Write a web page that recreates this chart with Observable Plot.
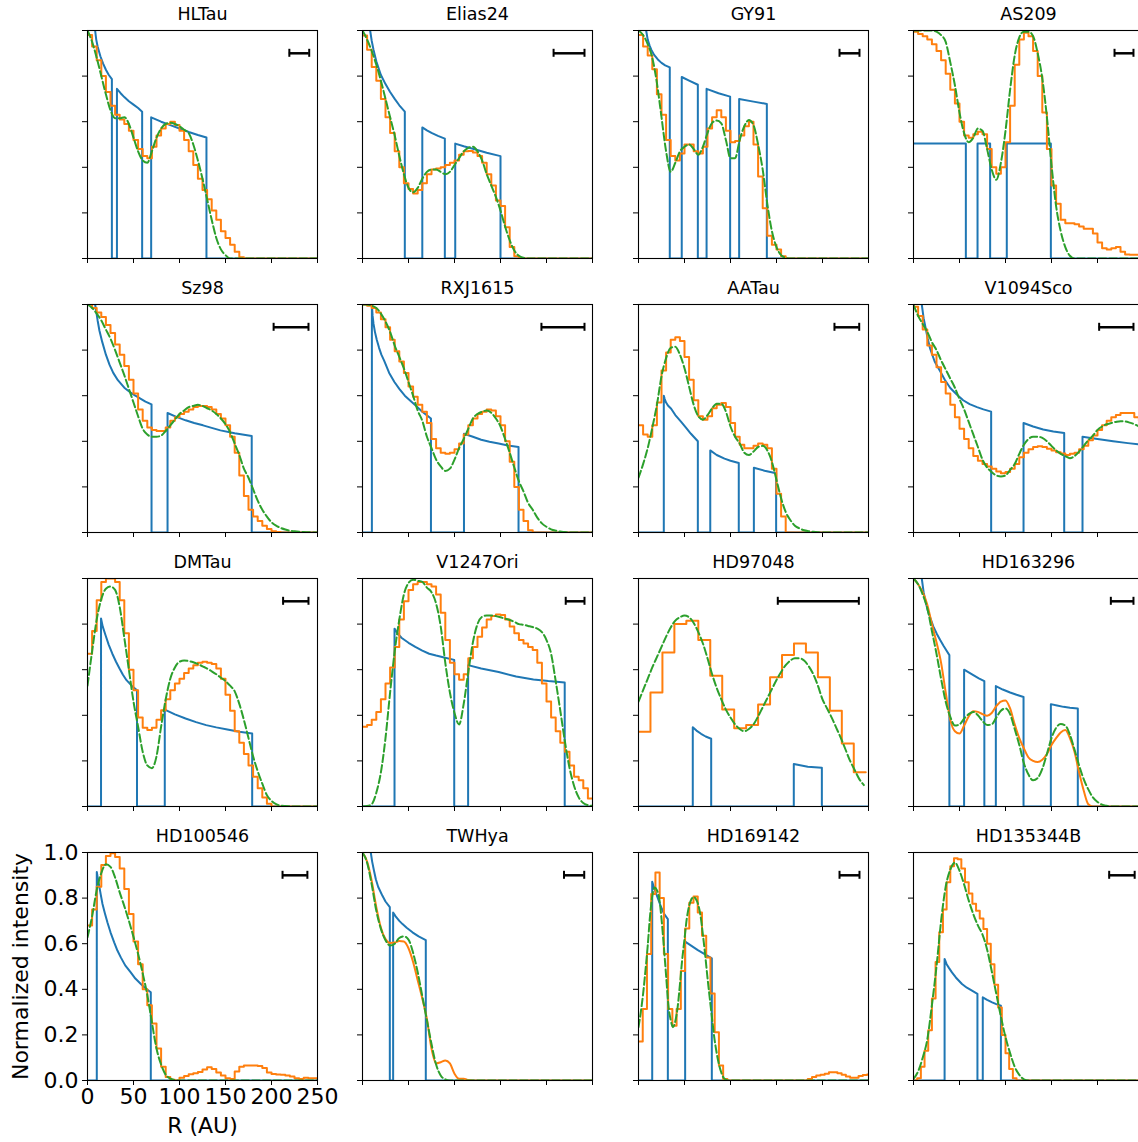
<!DOCTYPE html>
<html><head><meta charset="utf-8">
<script src="https://cdn.jsdelivr.net/npm/d3@7"></script>
<script src="https://cdn.jsdelivr.net/npm/@observablehq/plot@0.6"></script>
<style>
body{margin:0;background:#fff;}
#fig{position:relative;width:1138px;height:1142px;overflow:hidden;background:#fff;}
#fig svg{position:absolute;}
</style>
</head><body><div id="fig"></div>
<script>
// ---------- data ----------
const names = ["HLTau","Elias24","GY91","AS209","Sz98","RXJ1615","AATau","V1094Sco","DMTau","V1247Ori","HD97048","HD163296","HD100546","TWHya","HD169142","HD135344B"];
const xTicks = [0, 50, 100, 150, 200, 250];
const yTicks = [0, 0.2, 0.4, 0.6, 0.8, 1.0];
const xLabel = "R (AU)";
const yLabel = "Normalized intensity";
// observed profile: bin width (AU) and whether drawn smooth
const obsBin = [5,5,5,5,5,5,5,5,5,5,13,5,5,5,4.6,4];
const obsSmooth = [false,false,false,false,false,false,false,false,false,false,false,true,false,true,false,false];
// convolved model sampling step (AU)
const convStep = [5,5,5,5,5,5,5,5,5,5,5,5,5,5,2.5,5];

// model ring profiles [R, I]
const ring_HLTau = [[2,2],[5,1.17],[8.3,1.0],[9.5,0.96],[11,0.93],[14,0.887],[17,0.855],[20,0.828],[23,0.806],[26.5,0.787],[26.5,0],[32,0],[32,0.744],[36,0.725],[40,0.708],[45,0.69],[50,0.675],[55,0.66],[59.4,0.644],[59.4,0],[69.2,0],[69.2,0.619],[80,0.60],[90,0.585],[100,0.57],[110,0.555],[120,0.542],[129.3,0.531],[129.3,0],[250,0]];
const ring_Elias24 = [[2,2],[5,1.2],[8.3,1.0],[10,0.955],[12,0.915],[15,0.865],[20,0.805],[25,0.765],[30,0.73],[35,0.70],[40,0.672],[46,0.644],[46,0],[65,0],[65,0.575],[70,0.562],[75,0.551],[82,0.538],[89.5,0.526],[89.5,0],[100.8,0],[100.8,0.504],[110,0.492],[120,0.481],[135,0.464],[150,0.449],[150,0],[250,0]];
const ring_GY91 = [[2,2],[5,1.25],[8.3,1.0],[10,0.96],[12,0.935],[14,0.915],[17,0.893],[21,0.873],[25,0.858],[29,0.847],[34,0.838],[34,0],[47,0],[47,0.796],[55,0.78],[64.5,0.762],[64.5,0],[74,0],[74,0.744],[87,0.725],[99.6,0.71],[99.6,0],[109.4,0],[109.4,0.70],[125,0.688],[139.5,0.678],[139.5,0],[250,0]];
const ring_AS209 = [[0,0.504],[56.9,0.504],[56.9,0],[69.6,0],[69.6,0.504],[83.3,0.504],[83.3,0],[101.4,0],[101.4,0.504],[149.3,0.504],[149.3,0],[250,0]];
const ring_Sz98 = [[2,2],[5,1.25],[8.3,1.0],[9.5,0.97],[11,0.93],[13,0.885],[16,0.836],[20,0.78],[24,0.735],[28,0.70],[33,0.668],[40,0.635],[46,0.616],[52,0.60],[57.5,0.587],[63,0.574],[69.6,0.562],[69.6,0],[87,0],[87,0.524],[96,0.508],[106.6,0.492],[116,0.48],[125.6,0.47],[135,0.459],[144.5,0.448],[160,0.435],[178.5,0.423],[178.5,0],[250,0]];
const ring_RXJ1615 = [[0,0],[10.2,0],[10.2,1.0],[11,0.95],[12,0.915],[13.5,0.88],[15.5,0.845],[18,0.81],[20.5,0.78],[23.4,0.755],[29,0.70],[34.7,0.66],[40,0.63],[46,0.60],[52,0.578],[57.5,0.558],[65,0.53],[74.4,0.50],[74.4,0],[110.3,0],[110.3,0.433],[120,0.42],[129,0.407],[138,0.398],[148,0.39],[158,0.382],[169.6,0.375],[169.6,0],[250,0]];
const ring_AATau = [[0,0],[27.5,0],[27.5,0.60],[28.5,0.585],[30,0.57],[32,0.557],[35.5,0.543],[40,0.515],[46.4,0.485],[52,0.458],[57,0.433],[64.5,0.40],[64.5,0],[78,0],[78,0.36],[85,0.34],[93.5,0.324],[100,0.315],[109,0.305],[109,0],[125.4,0],[125.4,0.284],[137,0.271],[149.6,0.26],[149.6,0],[250,0]];
const ring_V1094Sco = [[2,2],[5,1.3],[9,1.0],[11,0.94],[13,0.9],[15.5,0.85],[18,0.807],[23,0.75],[29,0.707],[34,0.67],[40,0.634],[47,0.605],[54,0.58],[61,0.563],[69,0.55],[76,0.54],[84.4,0.53],[84.4,0],[119.6,0],[119.6,0.48],[130,0.465],[141,0.452],[152,0.443],[163.8,0.436],[163.8,0],[183.7,0],[183.7,0.42],[200,0.41],[217,0.40],[233,0.392],[250,0.385]];
const ring_DMTau = [[0,0],[14.7,0],[14.7,0.825],[16.5,0.79],[19.7,0.75],[23,0.71],[27,0.67],[31,0.635],[34.8,0.605],[38.5,0.578],[42.4,0.554],[48,0.53],[53.8,0.51],[53.8,0],[84,0],[84,0.425],[95,0.404],[106.6,0.386],[118,0.37],[129,0.357],[140,0.347],[152,0.338],[165,0.328],[179,0.32],[179,0],[250,0]];
const ring_V1247Ori = [[0,0],[34.8,0],[34.8,0.78],[38,0.76],[42.3,0.74],[50,0.718],[57.4,0.70],[65,0.684],[72.5,0.67],[80,0.662],[87.6,0.655],[99.7,0.643],[99.7,0],[114.8,0],[114.8,0.62],[129,0.605],[148,0.59],[167,0.57],[185.8,0.557],[202,0.55],[219.8,0.544],[219.8,0],[250,0]];
const ring_HD97048 = [[0,0],[59,0],[59,0.348],[63,0.333],[68,0.319],[73,0.307],[79,0.297],[79,0],[168.8,0],[168.8,0.186],[184,0.174],[199.3,0.17],[199.3,0],[250,0]];
const ring_HD163296 = [[2,2],[5,1.3],[9,1.0],[11,0.94],[13,0.9],[15.5,0.86],[18,0.83],[21.5,0.79],[25.4,0.757],[29,0.73],[32.6,0.705],[36,0.683],[39,0.664],[39,0],[55,0],[55,0.60],[60,0.588],[65,0.576],[71,0.562],[77,0.55],[77,0],[89.5,0],[89.5,0.528],[97,0.513],[105,0.50],[112,0.49],[119.6,0.48],[119.6,0],[149.3,0],[149.3,0.449],[156,0.443],[163,0.437],[170,0.433],[178.6,0.43],[178.6,0],[250,0]];
const ring_HD100546 = [[0,0],[10.1,0],[10.1,0.915],[11.3,0.885],[12.7,0.854],[14.4,0.815],[16.3,0.774],[18.8,0.735],[21.7,0.693],[25,0.65],[29,0.606],[32.5,0.57],[36.2,0.54],[41,0.505],[47,0.474],[52,0.447],[58,0.423],[63,0.404],[68.8,0.387],[68.8,0],[250,0]];
const ring_TWHya = [[2,2],[5,1.3],[9,1.0],[10.5,0.96],[12.5,0.92],[14.5,0.883],[17,0.85],[21.7,0.81],[25,0.785],[29.7,0.76],[29.7,0],[33.3,0],[33.3,0.737],[36,0.72],[40,0.70],[43.5,0.686],[48,0.67],[54.3,0.65],[61,0.632],[68.8,0.616],[68.8,0],[250,0]];
const ring_HD169142 = [[0,0],[14.9,0],[14.9,0.872],[17.4,0.84],[21,0.80],[24.6,0.76],[28,0.73],[31.9,0.708],[31.9,0],[50.7,0],[50.7,0.609],[64.5,0.572],[79.7,0.536],[79.7,0],[250,0]];
const ring_HD135344B = [[0,0],[33.8,0],[33.8,0.533],[36,0.51],[38.5,0.494],[41.8,0.474],[46,0.452],[52.7,0.423],[58,0.407],[63.6,0.394],[69.5,0.38],[69.5,0],[75.3,0],[75.3,0.365],[80,0.354],[85.5,0.343],[90,0.335],[95,0.328],[95,0],[250,0]];

// observed intensity per bin
const obs_HLTau = [0.98,0.93,0.87,0.80,0.73,0.67,0.63,0.61,0.59,0.56,0.52,0.48,0.45,0.44,0.49,0.54,0.57,0.59,0.60,0.585,0.56,0.52,0.47,0.41,0.35,0.30,0.26,0.21,0.17,0.12,0.09,0.06,0.03,0.005,0];
const obs_Elias24 = [0.978,0.916,0.84,0.78,0.70,0.62,0.55,0.47,0.40,0.33,0.305,0.285,0.30,0.33,0.37,0.39,0.395,0.40,0.41,0.42,0.43,0.455,0.47,0.472,0.465,0.45,0.42,0.37,0.32,0.254,0.23,0.137,0.05,0.01,0];
const obs_GY91 = [0.98,0.93,0.89,0.83,0.72,0.63,0.52,0.45,0.43,0.46,0.50,0.50,0.47,0.46,0.49,0.57,0.62,0.65,0.62,0.56,0.51,0.515,0.54,0.58,0.60,0.50,0.36,0.22,0.10,0.06,0.04,0.01,0];
const obs_AS209 = [0.995,0.985,0.975,0.96,0.94,0.91,0.87,0.81,0.74,0.68,0.60,0.54,0.53,0.545,0.556,0.545,0.48,0.40,0.372,0.40,0.51,0.67,0.85,0.96,0.99,0.975,0.91,0.80,0.64,0.48,0.32,0.24,0.17,0.155,0.155,0.15,0.14,0.13,0.13,0.11,0.07,0.045,0.04,0.045,0.05,0.03,0.018,0.016,0.016,0.016];
const obs_Sz98 = [1.0,0.985,0.965,0.945,0.91,0.875,0.825,0.78,0.73,0.67,0.61,0.54,0.49,0.46,0.45,0.445,0.445,0.46,0.49,0.505,0.52,0.53,0.54,0.55,0.555,0.555,0.55,0.54,0.52,0.50,0.47,0.42,0.35,0.25,0.16,0.10,0.07,0.05,0.03,0.015,0.006,0.002,0];
const obs_RXJ1615 = [1.0,0.995,0.985,0.965,0.935,0.90,0.845,0.795,0.75,0.70,0.64,0.595,0.56,0.53,0.48,0.41,0.37,0.35,0.345,0.35,0.365,0.39,0.43,0.47,0.50,0.52,0.53,0.54,0.535,0.51,0.47,0.40,0.31,0.20,0.10,0.05,0.01,0];
const obs_AATau = [0.47,0.43,0.42,0.47,0.57,0.71,0.79,0.845,0.856,0.84,0.77,0.67,0.58,0.51,0.495,0.51,0.545,0.56,0.568,0.55,0.48,0.42,0.385,0.37,0.37,0.38,0.39,0.385,0.37,0.28,0.17,0.07,0];
const obs_V1094Sco = [0.99,0.95,0.89,0.82,0.78,0.725,0.66,0.61,0.56,0.505,0.455,0.41,0.37,0.335,0.315,0.30,0.29,0.28,0.268,0.26,0.265,0.28,0.30,0.33,0.35,0.365,0.375,0.378,0.375,0.367,0.36,0.352,0.346,0.34,0.345,0.35,0.365,0.38,0.405,0.425,0.45,0.47,0.49,0.505,0.515,0.524,0.524,0.524,0.505,0.49];
const obs_DMTau = [0.67,0.77,0.905,0.985,1.0,1.0,0.985,0.905,0.76,0.60,0.51,0.39,0.345,0.335,0.345,0.38,0.422,0.47,0.51,0.54,0.56,0.585,0.605,0.62,0.63,0.635,0.63,0.625,0.605,0.56,0.49,0.42,0.33,0.28,0.23,0.18,0.13,0.08,0.04,0.012,0];
const obs_V1247Ori = [0.35,0.357,0.38,0.415,0.47,0.54,0.61,0.70,0.82,0.90,0.95,0.975,0.985,0.985,0.975,0.965,0.93,0.85,0.73,0.63,0.58,0.556,0.58,0.65,0.70,0.745,0.785,0.82,0.835,0.842,0.84,0.82,0.79,0.76,0.73,0.715,0.70,0.686,0.63,0.54,0.46,0.39,0.33,0.28,0.24,0.18,0.13,0.115,0.08,0.035];
const obs_HD97048 = [0.328,0.50,0.675,0.80,0.815,0.73,0.574,0.425,0.343,0.357,0.447,0.567,0.665,0.715,0.675,0.567,0.42,0.276,0.15];
const obs_HD163296 = [1.0,0.975,0.94,0.885,0.80,0.72,0.63,0.50,0.38,0.33,0.32,0.355,0.395,0.418,0.415,0.405,0.398,0.41,0.44,0.46,0.465,0.43,0.36,0.30,0.255,0.215,0.20,0.195,0.205,0.23,0.27,0.30,0.325,0.335,0.30,0.24,0.15,0.07,0.01,0];
const obs_HD100546 = [0.68,0.75,0.85,0.945,0.985,0.997,0.98,0.93,0.84,0.73,0.61,0.51,0.40,0.33,0.25,0.14,0.06,0.015,0.003,0,0.012,0.02,0.027,0.032,0.037,0.048,0.058,0.05,0.035,0.022,0.01,0.007,0.04,0.06,0.066,0.066,0.066,0.064,0.055,0.035,0.028,0.026,0.025,0.022,0.018,0.01,0.007,0.012,0.01,0.01];
const obs_TWHya = [1.0,0.96,0.875,0.76,0.67,0.62,0.603,0.605,0.612,0.61,0.58,0.52,0.44,0.36,0.27,0.14,0.075,0.08,0.088,0.075,0.03,0.008,0.008,0.002,0];
const obs_HD169142 = [0.171,0.314,0.555,0.818,0.912,0.80,0.555,0.314,0.24,0.314,0.48,0.667,0.78,0.807,0.737,0.635,0.54,0.382,0.212,0.066,0.007,0,0,0,0,0,0,0,0,0,0,0,0,0,0,0,0,0,0,0,0.007,0.015,0.022,0.025,0.03,0.036,0.036,0.032,0.025,0.018,0.012,0.012,0.02,0.024,0.026];
const obs_HD135344B = [0.0,0.01,0.06,0.13,0.22,0.36,0.52,0.65,0.75,0.87,0.94,0.975,0.97,0.93,0.87,0.82,0.775,0.745,0.71,0.665,0.60,0.51,0.42,0.32,0.20,0.12,0.05,0.01,0];

// convolved model intensity
const conv_HLTau = [1.0,0.95,0.88,0.80,0.72,0.65,0.615,0.615,0.62,0.59,0.53,0.47,0.43,0.42,0.47,0.53,0.57,0.59,0.595,0.59,0.58,0.565,0.55,0.50,0.43,0.35,0.26,0.17,0.09,0.04,0.015,0];
const conv_Elias24 = [1.0,0.96,0.91,0.85,0.78,0.70,0.62,0.54,0.45,0.37,0.31,0.29,0.31,0.35,0.38,0.39,0.39,0.38,0.37,0.38,0.41,0.44,0.47,0.485,0.49,0.47,0.43,0.37,0.32,0.27,0.21,0.14,0.08,0.035,0.012,0.003,0];
const conv_GY91 = [1.0,0.98,0.94,0.88,0.77,0.62,0.47,0.38,0.42,0.47,0.49,0.50,0.48,0.455,0.49,0.55,0.595,0.605,0.593,0.52,0.44,0.44,0.52,0.58,0.607,0.585,0.50,0.39,0.24,0.12,0.05,0.015,0.003,0];
const conv_AS209 = [1.0,1.0,1.0,1.0,1.0,0.995,0.98,0.95,0.86,0.76,0.64,0.55,0.51,0.53,0.57,0.56,0.48,0.39,0.345,0.42,0.56,0.74,0.89,0.97,0.995,0.995,0.975,0.90,0.79,0.62,0.41,0.23,0.12,0.05,0.012,0];
const conv_Sz98 = [1.0,0.985,0.96,0.93,0.89,0.85,0.80,0.745,0.69,0.63,0.57,0.51,0.455,0.43,0.42,0.42,0.425,0.445,0.47,0.495,0.52,0.535,0.55,0.555,0.56,0.555,0.545,0.535,0.52,0.50,0.475,0.44,0.39,0.34,0.28,0.24,0.19,0.14,0.10,0.07,0.045,0.03,0.02,0.013,0.008,0.005,0.003,0.002,0.001,0];
const conv_RXJ1615 = [1.0,1.0,0.995,0.985,0.96,0.925,0.88,0.82,0.77,0.72,0.66,0.60,0.535,0.49,0.42,0.37,0.32,0.29,0.27,0.28,0.32,0.37,0.41,0.455,0.50,0.52,0.53,0.535,0.525,0.50,0.465,0.41,0.35,0.285,0.225,0.18,0.13,0.10,0.065,0.04,0.025,0.014,0.008,0.004,0.002,0];
const conv_AATau = [0.24,0.30,0.37,0.46,0.56,0.685,0.765,0.81,0.815,0.78,0.72,0.64,0.56,0.51,0.495,0.515,0.545,0.565,0.565,0.53,0.465,0.42,0.39,0.35,0.34,0.355,0.375,0.38,0.36,0.31,0.23,0.15,0.09,0.055,0.03,0.018,0.01,0.006,0.003,0.001,0];
const conv_V1094Sco = [1.0,0.95,0.915,0.88,0.835,0.80,0.755,0.715,0.675,0.635,0.585,0.54,0.485,0.43,0.375,0.32,0.285,0.265,0.25,0.246,0.25,0.275,0.30,0.345,0.385,0.41,0.42,0.42,0.415,0.40,0.38,0.36,0.345,0.335,0.326,0.335,0.355,0.38,0.405,0.425,0.45,0.465,0.475,0.48,0.485,0.488,0.487,0.482,0.475,0.465,0.455];
const conv_DMTau = [0.53,0.68,0.82,0.91,0.955,0.965,0.95,0.875,0.74,0.60,0.46,0.35,0.24,0.18,0.168,0.22,0.35,0.47,0.56,0.61,0.635,0.64,0.638,0.633,0.625,0.615,0.605,0.593,0.58,0.565,0.55,0.53,0.505,0.45,0.38,0.30,0.22,0.155,0.10,0.05,0.025,0.01,0.004,0.002,0.001,0];
const conv_V1247Ori = [0.0,0.002,0.01,0.06,0.15,0.30,0.50,0.68,0.82,0.93,0.98,0.995,0.99,0.985,0.96,0.94,0.89,0.79,0.63,0.50,0.41,0.36,0.45,0.59,0.72,0.80,0.832,0.838,0.838,0.835,0.83,0.824,0.818,0.81,0.80,0.797,0.792,0.787,0.78,0.765,0.73,0.67,0.55,0.42,0.285,0.17,0.09,0.04,0.015,0.006,0.003];
const conv_HD97048 = [0.46,0.51,0.56,0.61,0.655,0.70,0.745,0.785,0.815,0.83,0.838,0.83,0.805,0.765,0.715,0.65,0.58,0.52,0.47,0.425,0.39,0.36,0.34,0.33,0.34,0.36,0.395,0.435,0.475,0.515,0.555,0.59,0.62,0.64,0.65,0.65,0.64,0.615,0.58,0.53,0.47,0.43,0.39,0.345,0.30,0.25,0.20,0.16,0.12,0.094];
const conv_HD163296 = [1.0,0.975,0.93,0.87,0.77,0.67,0.56,0.46,0.393,0.355,0.36,0.385,0.405,0.415,0.40,0.375,0.357,0.36,0.39,0.42,0.43,0.405,0.34,0.27,0.19,0.14,0.115,0.125,0.165,0.23,0.30,0.345,0.362,0.355,0.315,0.25,0.18,0.12,0.075,0.04,0.02,0.008,0.003,0];
const conv_HD100546 = [0.628,0.72,0.835,0.91,0.948,0.937,0.89,0.825,0.765,0.70,0.63,0.555,0.47,0.375,0.255,0.14,0.07,0.025,0.008,0.002,0];
const conv_TWHya = [1.0,0.955,0.86,0.745,0.665,0.615,0.592,0.60,0.625,0.632,0.618,0.56,0.475,0.37,0.265,0.16,0.07,0.022,0.005,0];
const conv_HD169142 = [0.234,0.30,0.38,0.48,0.59,0.72,0.81,0.847,0.835,0.80,0.71,0.59,0.46,0.33,0.265,0.234,0.26,0.32,0.42,0.53,0.62,0.71,0.765,0.795,0.805,0.795,0.77,0.72,0.64,0.55,0.45,0.36,0.27,0.185,0.12,0.07,0.035,0.012,0.004,0];
const conv_HD135344B = [0.007,0.04,0.1,0.18,0.33,0.50,0.70,0.85,0.925,0.956,0.92,0.86,0.79,0.73,0.68,0.64,0.575,0.48,0.38,0.28,0.19,0.12,0.06,0.025,0.005,0];

// beam size bars [R start, R end] (AU)
const beam_HLTau = [219.4, 241];
const beam_Elias24 = [207.7, 241.3];
const beam_GY91 = [218.5, 240.2];
const beam_AS209 = [218.5, 239.1];
const beam_Sz98 = [202.3, 240.2];
const beam_RXJ1615 = [194.5, 241.3];
const beam_AATau = [213, 239.9];
const beam_V1094Sco = [201.8, 239.1];
const beam_DMTau = [212.6, 240.2];
const beam_V1247Ori = [220.9, 241.3];
const beam_HD97048 = [151.4, 239.5];
const beam_HD163296 = [214.5, 239.1];
const beam_HD100546 = [212, 239];
const beam_TWHya = [219, 241];
const beam_HD169142 = [218.5, 240.2];
const beam_HD135344B = [212.7, 240.4];

const rings = [ring_HLTau,ring_Elias24,ring_GY91,ring_AS209,ring_Sz98,ring_RXJ1615,ring_AATau,ring_V1094Sco,ring_DMTau,ring_V1247Ori,ring_HD97048,ring_HD163296,ring_HD100546,ring_TWHya,ring_HD169142,ring_HD135344B];
const obss = [obs_HLTau,obs_Elias24,obs_GY91,obs_AS209,obs_Sz98,obs_RXJ1615,obs_AATau,obs_V1094Sco,obs_DMTau,obs_V1247Ori,obs_HD97048,obs_HD163296,obs_HD100546,obs_TWHya,obs_HD169142,obs_HD135344B];
const convs = [conv_HLTau,conv_Elias24,conv_GY91,conv_AS209,conv_Sz98,conv_RXJ1615,conv_AATau,conv_V1094Sco,conv_DMTau,conv_V1247Ori,conv_HD97048,conv_HD163296,conv_HD100546,conv_TWHya,conv_HD169142,conv_HD135344B];
const beams = [beam_HLTau,beam_Elias24,beam_GY91,beam_AS209,beam_Sz98,beam_RXJ1615,beam_AATau,beam_V1094Sco,beam_DMTau,beam_V1247Ori,beam_HD97048,beam_HD163296,beam_HD100546,beam_TWHya,beam_HD169142,beam_HD135344B];

// ---------- layout ----------
const colLeft = [87, 362, 637.5, 913];
const rowTop = [30, 304, 578, 852];
const PW = 230, PH = 228;
const C_BLUE = "#1f77b4", C_ORANGE = "#ff7f0e", C_GREEN = "#2ca02c";
const fig = document.getElementById("fig");

names.forEach((name, i) => {
  const row = Math.floor(i / 4), col = i % 4;
  const labeled = i === 12;
  const mL = labeled ? 87 : 12, mR = 12, mT = 32, mB = labeled ? 62 : 12;

  const bin = obsBin[i];
  const ov = obss[i];
  const obsPts = ov.map((v, k) => [k * bin, v]);
  if (!obsSmooth[i]) obsPts.push([ov.length * bin, ov[ov.length - 1]]);
  if (ov[ov.length - 1] === 0) obsPts.push([250, 0]);

  const cs = convStep[i];
  const cv = convs[i];
  const convPts = cv.map((v, k) => [k * cs, v]);
  if (cv[cv.length - 1] === 0) convPts.push([250, 0]);

  const beam = beams[i];
  const barY = 0.9, capH = 4 / PH;

  const marks = [
    Plot.line(rings[i], {x: d => d[0], y: d => d[1], stroke: C_BLUE, strokeWidth: 2, clip: true}),
    Plot.line(obsPts, {x: d => d[0], y: d => d[1], curve: obsSmooth[i] ? "monotone-x" : "step-after", stroke: C_ORANGE, strokeWidth: 2, clip: true}),
    Plot.line(convPts, {x: d => d[0], y: d => d[1], curve: "monotone-x", stroke: C_GREEN, strokeWidth: 2, strokeDasharray: "7.5,3.2", clip: true}),
    Plot.ruleY([barY], {x1: beam[0], x2: beam[1], stroke: "black", strokeWidth: 2.5}),
    Plot.ruleX(beam, {x: d => d, y1: barY - capH, y2: barY + capH, stroke: "black", strokeWidth: 2}),
    Plot.frame({stroke: "black", strokeWidth: 1.1}),
    Plot.axisX({ticks: xTicks, tickSize: 5, tickPadding: 3,
      tickFormat: labeled ? (d => String(d)) : (() => ""), label: null, fontSize: 22}),
    Plot.axisY({ticks: yTicks, tickSize: 5, tickPadding: 4,
      tickFormat: labeled ? d3.format(".1f") : (() => ""), label: null, fontSize: 22}),
    Plot.text([name], {text: d => d, frameAnchor: "top", dy: -11, lineAnchor: "bottom", fontSize: 17.5, fontWeight: "normal", fill: "black"})
  ];
  if (labeled) {
    marks.push(Plot.text([xLabel], {text: d => d, frameAnchor: "bottom", dy: 45, lineAnchor: "middle", textAnchor: "middle", fontSize: 22, fill: "black"}));
    marks.push(Plot.text([yLabel], {text: d => d, frameAnchor: "left", dx: -67, rotate: -90, lineAnchor: "middle", textAnchor: "middle", fontSize: 22, fill: "black"}));
  }

  const svg = Plot.plot({
    width: PW + mL + mR,
    height: PH + mT + mB,
    marginLeft: mL, marginRight: mR, marginTop: mT, marginBottom: mB,
    x: {domain: [0, 250], label: null},
    y: {domain: [0, 1], label: null},
    style: {fontFamily: "DejaVu Sans", fontSize: "22px", color: "black", background: "transparent", overflow: "visible"},
    marks
  });
  svg.style.left = (colLeft[col] - mL) + "px";
  svg.style.top = (rowTop[row] - mT) + "px";
  fig.appendChild(svg);
});
</script>
</body></html>
